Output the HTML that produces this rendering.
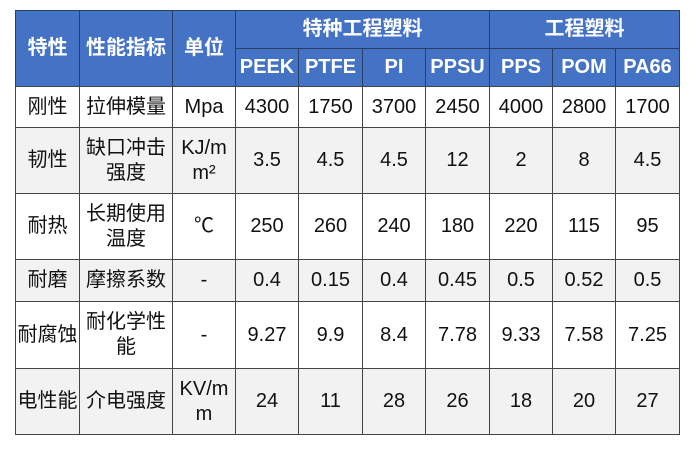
<!DOCTYPE html><html><head><meta charset="utf-8"><style>
body{margin:0;width:700px;height:452px;background:#fff;font-family:"Liberation Sans","Noto Sans CJK SC",sans-serif;position:relative;overflow:hidden}
.c{position:absolute;box-sizing:border-box;border:1px solid #444;display:flex;align-items:center;justify-content:center;text-align:center;font-size:20px;line-height:25px;color:#111}
.h{background:#4472C4;color:#fff;font-weight:bold;border-color:#2a3f66}
.g{background:#f2f2f2}
</style></head><body>
<div id="t"></div>
<script>
var X=[15,79,172,235,298,362,425,489,552,615,679];
var H=[[0,1,'特性'],[1,2,'性能指标'],[2,3,'单位'],[3,7,'特种工程塑料'],[7,10,'工程塑料']];
var s='';
function cell(x0,x1,y0,y1,t,cls){s+='<div class="c '+cls+'" style="left:'+X[x0]+'px;width:'+(X[x1]-X[x0]+1)+'px;top:'+y0+'px;height:'+(y1-y0+1)+'px">'+t+'</div>';}
H.forEach(function(h){cell(h[0],h[1],10,h[0]<3?86:48,h[2],'h');});
['PEEK','PTFE','PI','PPSU','PPS','POM','PA66'].forEach(function(t,i){cell(3+i,4+i,48,86,t,'h');});
var Y=[86,127,193,259,301,368,434];
var R=[['刚性','拉伸模量','Mpa','4300','1750','3700','2450','4000','2800','1700'],
['韧性','缺口冲击<br>强度','KJ/m<br>m²','3.5','4.5','4.5','12','2','8','4.5'],
['耐热','长期使用<br>温度','℃','250','260','240','180','220','115','95'],
['耐磨','摩擦系数','-','0.4','0.15','0.4','0.45','0.5','0.52','0.5'],
['耐腐蚀','耐化学性<br>能','-','9.27','9.9','8.4','7.78','9.33','7.58','7.25'],
['电性能','介电强度','KV/m<br>m','24','11','28','26','18','20','27']];
R.forEach(function(r,i){r.forEach(function(t,j){cell(j,j+1,Y[i],Y[i+1],t,i%2?'g':'');});});
document.getElementById('t').innerHTML=s;
</script>
</body></html>
